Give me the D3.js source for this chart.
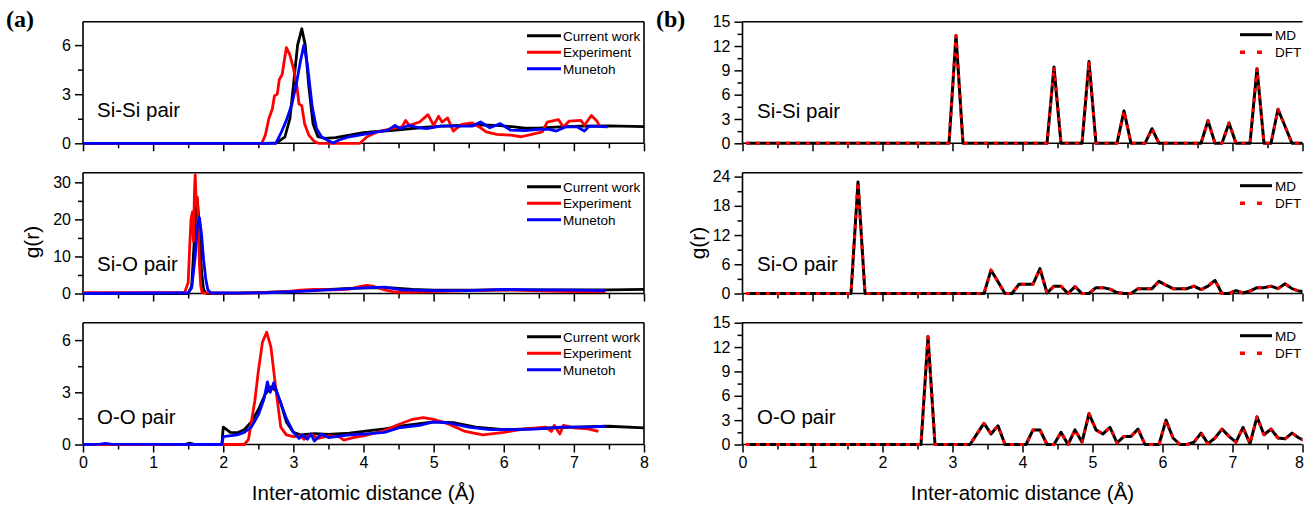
<!DOCTYPE html>
<html><head><meta charset="utf-8">
<script src="https://cdn.jsdelivr.net/npm/d3@7"></script>
<style>
html,body{margin:0;padding:0;background:#fff;}
svg{display:block;font-family:"Liberation Sans",Arial,sans-serif;}
</style></head><body>
<svg id="chart" width="1304" height="507"></svg>
<script>
// ---------------- DATA ----------------
const xTicks = [0,1,2,3,4,5,6,7,8];
const pairLabels = ["Si-Si pair","Si-O pair","O-O pair"];
const legendA = ["Current work","Experiment","Munetoh"];
const legendB = ["MD","DFT"];

// (a) y tick values per panel
const yTicksA = [[0,3,6],[0,10,20,30],[0,3,6]];
const yMaxA = [7.43, 32.6, 7.0];
// (b) y tick values per panel
const yTicksB = [[0,3,6,9,12,15],[0,6,12,18,24],[0,3,6,9,12,15]];
const yMaxB = [15, 24.8, 15];

// (a) Si-Si
const aSiSiCurrent = [[0,0],[2.6,0],[2.76,0.02],[2.88,0.4],[2.95,1.5],[3.0,3.5],[3.06,6.0],[3.12,7.0],[3.17,6.0],[3.22,3.5],[3.28,1.2],[3.35,0.4],[3.45,0.3],[3.6,0.35],[3.8,0.5],[4.0,0.65],[4.2,0.72],[4.5,0.82],[4.8,0.95],[5.1,1.05],[5.4,1.1],[5.7,1.12],[5.95,1.08],[6.15,1.0],[6.3,0.92],[6.5,0.93],[6.8,1.0],[7.1,1.05],[7.5,1.06],[8,1.02]];
const aSiSiExp = [[0,0],[2.55,0],[2.6,0.5],[2.65,1.5],[2.7,2.1],[2.73,2.9],[2.77,3.0],[2.8,3.9],[2.84,4.2],[2.9,5.85],[2.95,5.4],[3.0,4.6],[3.05,3.5],[3.08,2.4],[3.12,2.3],[3.16,1.2],[3.22,0.5],[3.3,0.1],[3.36,0],[3.95,0],[4.05,0.4],[4.2,0.7],[4.4,0.9],[4.55,1.0],[4.6,1.4],[4.65,1.1],[4.8,1.3],[4.92,1.75],[5.0,1.1],[5.07,1.65],[5.12,1.3],[5.2,1.55],[5.28,0.75],[5.4,1.15],[5.55,1.25],[5.65,1.0],[5.75,0.7],[5.9,0.55],[6.1,0.5],[6.25,0.4],[6.4,0.55],[6.55,0.7],[6.62,1.3],[6.78,1.45],[6.85,1.0],[6.93,1.35],[7.1,1.4],[7.15,1.1],[7.25,1.7],[7.33,1.35],[7.37,1.0]];
const aSiSiMun = [[0,0],[2.75,0],[2.82,0.6],[2.9,1.4],[2.98,2.4],[3.05,3.8],[3.1,5.0],[3.15,6.0],[3.2,4.8],[3.27,2.2],[3.33,0.9],[3.4,0.4],[3.5,0.15],[3.57,0.02],[3.65,0.2],[3.8,0.4],[4.0,0.55],[4.2,0.7],[4.35,0.8],[4.45,1.1],[4.52,0.9],[4.65,1.1],[4.8,0.95],[4.9,0.9],[5.1,1.05],[5.4,1.05],[5.55,1.05],[5.67,1.3],[5.8,0.95],[5.95,1.2],[6.1,0.8],[6.3,0.78],[6.5,0.85],[6.65,0.85],[6.75,0.75],[6.88,1.0],[7.05,1.0],[7.15,0.75],[7.22,1.05],[7.48,1.0]];

// (a) Si-O
const aSiOCurrent = [[0,0],[1.5,0],[1.55,2],[1.58,12],[1.61,22],[1.63,25.5],[1.66,18],[1.69,6],[1.72,1],[1.76,0],[2.2,0.1],[2.6,0.3],[3.0,0.6],[3.4,1.0],[3.8,1.4],[4.1,1.6],[4.4,1.5],[4.7,1.1],[5.0,0.9],[5.5,0.9],[6.0,1.0],[6.5,1.0],[7.0,0.95],[7.5,1.0],[8,1.1]];
const aSiOExp = [[0,0.2],[1.45,0.3],[1.5,3],[1.52,12],[1.54,20],[1.56,22],[1.575,14],[1.59,28],[1.6,32],[1.615,24],[1.63,26],[1.645,18],[1.66,8],[1.68,2],[1.7,0.2],[2.0,0.1],[2.5,0.2],[2.9,0.5],[3.1,0.9],[3.3,1.1],[3.6,1.0],[3.8,1.2],[3.96,1.9],[4.05,2.2],[4.15,1.9],[4.3,1.0],[4.45,0.4],[4.6,0.3],[5.0,0.5],[5.5,0.8],[6.0,1.0],[6.5,0.7],[7.0,0.5],[7.45,0.5]];
const aSiOMun = [[0,0],[1.5,0.2],[1.55,1.5],[1.6,10],[1.63,18],[1.66,20.5],[1.69,16],[1.72,9],[1.75,4],[1.78,1],[1.82,0.2],[2.2,0.1],[2.6,0.2],[3.0,0.5],[3.5,1.0],[4.0,1.5],[4.3,1.7],[4.55,1.0],[5.0,0.8],[5.5,0.8],[6.0,1.1],[6.5,1.0],[7.0,0.9],[7.45,0.8]];

// (a) O-O
const aOOCurrent = [[0,0],[1.45,0],[1.52,0.08],[1.6,0],[1.98,0],[2.0,1.0],[2.05,0.85],[2.1,0.7],[2.2,0.68],[2.3,0.85],[2.4,1.3],[2.5,2.0],[2.6,2.9],[2.68,3.3],[2.75,3.1],[2.82,2.4],[2.9,1.3],[3.0,0.7],[3.1,0.55],[3.3,0.62],[3.5,0.58],[3.8,0.65],[4.0,0.75],[4.3,0.9],[4.6,1.1],[5.0,1.3],[5.3,1.25],[5.6,1.0],[6.0,0.85],[6.5,0.92],[7.0,1.0],[7.5,1.05],[8,0.95]];
const aOOExp = [[0,0],[2.3,0],[2.36,0.3],[2.45,2.5],[2.5,4.2],[2.56,5.9],[2.62,6.45],[2.68,5.6],[2.75,3.2],[2.82,1.0],[2.9,0.55],[3.0,0.45],[3.1,0.5],[3.15,0.3],[3.25,0.6],[3.35,0.35],[3.5,0.5],[3.65,0.45],[3.72,0.25],[3.85,0.4],[4.0,0.5],[4.3,0.8],[4.5,1.15],[4.7,1.45],[4.85,1.55],[5.0,1.45],[5.2,1.2],[5.45,0.75],[5.7,0.55],[6.0,0.7],[6.3,0.9],[6.6,1.0],[6.68,0.75],[6.72,1.1],[6.8,0.6],[6.85,1.1],[7.0,0.95],[7.2,0.9],[7.35,0.75]];
const aOOMun = [[0,0],[0.25,0.02],[0.32,0.07],[0.4,0.02],[1.98,0],[2.0,0.45],[2.2,0.55],[2.3,0.7],[2.4,1.0],[2.5,1.7],[2.58,2.6],[2.63,3.6],[2.67,3.0],[2.72,3.55],[2.8,2.6],[2.9,1.5],[3.0,0.7],[3.08,0.35],[3.13,0.55],[3.2,0.3],[3.25,0.6],[3.3,0.2],[3.4,0.6],[3.5,0.4],[3.8,0.55],[4.0,0.6],[4.3,0.7],[4.5,0.95],[4.8,1.1],[5.0,1.3],[5.2,1.25],[5.5,1.0],[5.8,0.85],[6.2,0.85],[6.5,0.9],[6.8,1.0],[7.0,1.0],[7.2,1.0],[7.45,1.05]];

// (b) MD / DFT (identical curves)
const bSiSi = [[0.05,0],[2.95,0],[3.05,13.3],[3.15,0],[4.35,0],[4.45,9.4],[4.55,0],[4.85,0],[4.95,10.1],[5.05,0],[5.35,0],[5.45,4.0],[5.55,0],[5.75,0],[5.85,1.8],[5.95,0],[6.55,0],[6.65,2.8],[6.75,0],[6.85,0],[6.95,2.5],[7.05,0],[7.25,0],[7.35,9.2],[7.45,0],[7.55,0],[7.65,4.2],[7.75,2.1],[7.85,0],[8.05,0]];
const bSiO = [[0.05,0],[1.55,0],[1.65,22.9],[1.75,0],[3.45,0],[3.55,4.8],[3.65,2.4],[3.75,0],[3.85,0],[3.95,1.9],[4.05,1.9],[4.15,1.9],[4.25,5.1],[4.35,0.1],[4.45,1.5],[4.55,1.5],[4.65,0],[4.75,1.4],[4.85,0],[4.95,0],[5.05,1.2],[5.15,1.2],[5.25,0.9],[5.35,0.2],[5.45,0],[5.55,0],[5.65,1.0],[5.75,1.0],[5.85,1.0],[5.95,2.5],[6.05,1.7],[6.15,1.0],[6.25,1.0],[6.35,1.0],[6.45,1.5],[6.55,0.8],[6.65,1.5],[6.75,2.7],[6.85,0],[6.95,0],[7.05,0.6],[7.15,0.1],[7.25,0.5],[7.35,1.2],[7.45,1.2],[7.55,1.5],[7.65,1.0],[7.75,2.0],[7.85,1.0],[7.95,0.5],[8.05,0.3]];
const bOO = [[0.05,0],[2.55,0],[2.65,13.3],[2.75,0],[3.25,0],[3.35,1.3],[3.45,2.6],[3.55,1.3],[3.65,2.3],[3.75,0],[4.05,0],[4.15,1.8],[4.25,1.8],[4.35,0],[4.45,0],[4.55,1.5],[4.65,0],[4.75,1.8],[4.85,0.3],[4.95,3.8],[5.05,1.8],[5.15,1.3],[5.25,2.1],[5.35,0.2],[5.45,1.0],[5.55,1.0],[5.65,1.9],[5.75,0],[5.95,0],[6.05,3.0],[6.15,0.8],[6.25,0],[6.35,0],[6.45,0.3],[6.55,1.4],[6.65,0.1],[6.75,0.8],[6.85,1.9],[6.95,1.0],[7.05,0.3],[7.15,2.1],[7.25,0.1],[7.35,3.4],[7.45,1.2],[7.55,1.9],[7.65,0.8],[7.75,0.7],[7.85,1.4],[7.95,0.8],[8.05,0.4]];

// ---------------- LAYOUT ----------------
const svg = d3.select("#chart");
svg.append("rect").attr("width",1304).attr("height",507).attr("fill","#fff");

const rows = [[21.7,143.3],[172.7,293.5],[322.7,444.5]];
const cols = {a:[83,644], b:[742.5,1302.5]};
const colorsA = ["#000000","#ff0000","#0000ff"];
const seriesA = [[aSiSiCurrent,aSiSiExp,aSiSiMun],[aSiOCurrent,aSiOExp,aSiOMun],[aOOCurrent,aOOExp,aOOMun]];
const seriesB = [bSiSi,bSiO,bOO];
const tickFont = 16;

function half(vals){ const s=vals[1]-vals[0]; const out=[]; for(let i=0;i<vals.length-1;i++) out.push(vals[i]+s/2); return out; }

function drawPanel(col, ri, yMax, yTicks, showRightBorder, clipId){
  const [x0,x1] = cols[col];
  const [top,bot] = rows[ri];
  const x = d3.scaleLinear().domain([0,8]).range([x0,x1]);
  const y = d3.scaleLinear().domain([0,yMax]).range([bot,top]);
  const g = svg.append("g");
  svg.append("clipPath").attr("id",clipId).append("rect")
    .attr("x",x0).attr("y",top).attr("width",Math.min(x1,1304)-x0).attr("height",bot-top+2);
  const xa = g.append("g").attr("transform",`translate(0,${bot})`)
    .call(d3.axisBottom(x).tickValues(xTicks).tickSize(8).tickPadding(4).tickFormat(ri===2? d3.format("d"):()=>""));
  xa.select(".domain").remove();
  xa.selectAll("line").attr("stroke","#000").attr("stroke-width",1.5);
  xa.selectAll("text").attr("font-size",tickFont).attr("fill","#000").attr("font-family","Liberation Sans, Arial");
  if(col==="b" && ri===2){
    xa.selectAll(".tick").filter(d=>d===8).select("text").attr("text-anchor","end").attr("x",1304-x1-0.5);
  }
  const xm = g.append("g").attr("transform",`translate(0,${bot})`)
    .call(d3.axisBottom(x).tickValues(half(xTicks)).tickSize(5).tickFormat(()=>""));
  xm.select(".domain").remove();
  xm.selectAll("line").attr("stroke","#000").attr("stroke-width",1.5);
  const ya = g.append("g").attr("transform",`translate(${x0},0)`)
    .call(d3.axisLeft(y).tickValues(yTicks).tickSize(8).tickPadding(4).tickFormat(d3.format("d")));
  ya.select(".domain").remove();
  ya.selectAll("line").attr("stroke","#000").attr("stroke-width",1.5);
  ya.selectAll("text").attr("font-size",tickFont).attr("fill","#000").attr("font-family","Liberation Sans, Arial");
  const ym = g.append("g").attr("transform",`translate(${x0},0)`)
    .call(d3.axisLeft(y).tickValues(half(yTicks)).tickSize(5).tickFormat(()=>""));
  ym.select(".domain").remove();
  ym.selectAll("line").attr("stroke","#000").attr("stroke-width",1.5);
  const fr = g.append("g").attr("stroke","#000").attr("stroke-width",1.6).attr("fill","none");
  fr.append("line").attr("x1",x0).attr("x2",x0).attr("y1",top).attr("y2",bot);
  fr.append("line").attr("x1",x0).attr("x2",x1).attr("y1",top).attr("y2",top);
  fr.append("line").attr("x1",x0).attr("x2",x1).attr("y1",bot).attr("y2",bot);
  if(showRightBorder) fr.append("line").attr("x1",x1).attr("x2",x1).attr("y1",top).attr("y2",bot);
  return {x,y,g,top,bot,x0,x1};
}

const line = (x,y)=>d3.line().x(d=>x(d[0])).y(d=>y(d[1])).curve(d3.curveLinear);

// (a) panels
for(let ri=0;ri<3;ri++){
  const p = drawPanel("a",ri,yMaxA[ri],yTicksA[ri],true,"clipA"+ri);
  const pl = svg.append("g").attr("clip-path",`url(#clipA${ri})`);
  seriesA[ri].forEach((s,k)=>{
    pl.append("path").attr("d",line(p.x,p.y)(s)).attr("fill","none")
      .attr("stroke",colorsA[k]).attr("stroke-width",2.8).attr("stroke-linejoin","round");
  });
  svg.append("text").attr("x",97).attr("y",[117,271,424][ri]).attr("font-size",20.5).text(pairLabels[ri]);
  const ly0 = p.top + 14;
  legendA.forEach((t,k)=>{
    const ly = ly0 + k*16.5;
    svg.append("line").attr("x1",527).attr("x2",561).attr("y1",ly).attr("y2",ly)
      .attr("stroke",colorsA[k]).attr("stroke-width",3);
    svg.append("text").attr("x",563).attr("y",ly+5).attr("font-size",13.5).text(t);
  });
}

// (b) panels
for(let ri=0;ri<3;ri++){
  const p = drawPanel("b",ri,yMaxB[ri],yTicksB[ri],false,"clipB"+ri);
  const pl = svg.append("g").attr("clip-path",`url(#clipB${ri})`);
  const d = line(p.x,p.y)(seriesB[ri]);
  pl.append("path").attr("d",d).attr("fill","none").attr("stroke","#000").attr("stroke-width",3).attr("stroke-linejoin","round");
  pl.append("path").attr("d",d).attr("fill","none").attr("stroke","#ff0000").attr("stroke-width",3)
    .attr("stroke-dasharray","4 6").attr("stroke-linejoin","round");
  svg.append("text").attr("x",757).attr("y",[118,271,424][ri]).attr("font-size",20.5).text(pairLabels[ri]);
  const ly0 = p.top + 13;
  svg.append("line").attr("x1",1240).attr("x2",1272).attr("y1",ly0).attr("y2",ly0).attr("stroke","#000").attr("stroke-width",3);
  svg.append("line").attr("x1",1240).attr("x2",1272).attr("y1",ly0+17.5).attr("y2",ly0+17.5).attr("stroke","#ff0000")
    .attr("stroke-width",3.5).attr("stroke-dasharray","5 12");
  svg.append("text").attr("x",1275).attr("y",ly0+5).attr("font-size",13.5).text(legendB[0]);
  svg.append("text").attr("x",1275).attr("y",ly0+22.5).attr("font-size",13.5).text(legendB[1]);
}

// axis titles
svg.append("text").attr("x",363.5).attr("y",500).attr("text-anchor","middle").attr("font-size",20.5).text("Inter-atomic distance (Å)");
svg.append("text").attr("x",1022.5).attr("y",500).attr("text-anchor","middle").attr("font-size",20.5).text("Inter-atomic distance (Å)");
svg.append("text").attr("transform","translate(39,242) rotate(-90)").attr("text-anchor","middle").attr("font-size",21).text("g(r)");
svg.append("text").attr("transform","translate(705,243) rotate(-90)").attr("text-anchor","middle").attr("font-size",21).text("g(r)");

// panel tags
svg.append("text").attr("x",6).attr("y",27).attr("font-family","Liberation Serif, Times New Roman, serif")
  .attr("font-weight","bold").attr("font-size",24).text("(a)");
svg.append("text").attr("x",656).attr("y",27).attr("font-family","Liberation Serif, Times New Roman, serif")
  .attr("font-weight","bold").attr("font-size",24).text("(b)");
</script>
</body></html>
